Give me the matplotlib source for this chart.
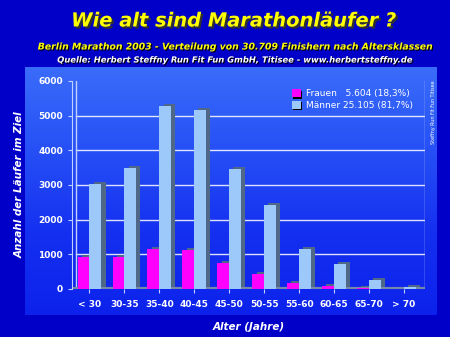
import numpy as np
import matplotlib
matplotlib.use("Agg")
import matplotlib.pyplot as plt
import matplotlib.patheffects as pe

categories = ["< 30", "30-35", "35-40", "40-45", "45-50", "50-55",
              "55-60", "60-65", "65-70", "> 70"]
frauen = [930, 920, 1140, 1130, 750, 430, 170, 90, 30, 10]
maenner = [3020, 3480, 5280, 5150, 3470, 2430, 1160, 720, 250, 60]
yticks = [0, 1000, 2000, 3000, 4000, 5000, 6000]

fig = plt.figure(figsize=(4.5, 3.37), dpi=100)
fig.patch.set_facecolor("#0000C8")

# lighter blue panel with vertical gradient
bg = fig.add_axes([25/450, 1-315/337, (437-25)/450, (315-67)/337])
grad = np.linspace(0, 1, 256).reshape(-1, 1)
cmap = matplotlib.colors.LinearSegmentedColormap.from_list(
    "panel", ["#3A6CFA", "#2650F6", "#1530F0", "#0C22EC"])
bg.imshow(grad, aspect="auto", cmap=cmap, extent=[0, 1, 0, 1])
bg.set_axis_off()

ax = fig.add_axes([72/450, 1-289/337, (425-72)/450, (289-81)/337])
ax.set_facecolor("none")
x = np.arange(len(categories))
w = 0.34

for yv in yticks[1:-1]:
    ax.plot([-0.38, 9.6], [yv, yv], color="white", lw=1, alpha=0.85, zorder=1)
ax.plot([-0.38, -0.38], [0, 6000], color="#C0D0FF", lw=1, zorder=1)
ax.plot([9.6, 9.6], [0, 6000], color="#C0D0FF", lw=1, zorder=1)
ax.axhline(0, color="#7888A8", lw=3, zorder=2)

# fake 3D side/top with an offset shadow
shadow = [pe.SimplePatchShadow(offset=(3, 1.5), shadow_rgbFace="#506888", alpha=1.0),
          pe.Normal()]
b1 = ax.bar(x - w/2, frauen, w, color="#FF00FF", zorder=3, label="Frauen   5.604 (18,3%)")
b2 = ax.bar(x + w/2, maenner, w, color="#9CC8FA", zorder=3, label="Männer 25.105 (81,7%)")
for b in list(b1) + list(b2):
    b.set_path_effects(shadow)

ax.set_xlim(-0.5, 9.6)
ax.set_ylim(0, 6000)
ax.set_yticks(yticks)
ax.set_xticks(x)
ax.set_xticklabels(categories)
for s in ["top", "right", "bottom"]:
    ax.spines[s].set_visible(False)
ax.spines["left"].set_color("#C0D0FF")
ax.tick_params(axis="y", colors="#C0D0FF", length=3, labelcolor="white",
               labelsize=6.5)
ax.tick_params(axis="x", colors="#C0D0FF", length=3, labelcolor="white",
               labelsize=6.5, pad=5)
for t in ax.get_xticklabels() + ax.get_yticklabels():
    t.set_fontweight("bold")

leg = ax.legend(loc="upper right", bbox_to_anchor=(0.99, 1.0), frameon=False,
                fontsize=6.5, labelcolor="white", handlelength=1.0,
                handleheight=1.0, handletextpad=0.6, labelspacing=0.3)
for h in leg.legend_handles:
    h.set_path_effects([pe.SimplePatchShadow(offset=(1, -1), shadow_rgbFace="black", alpha=1), pe.Normal()])

ax.set_ylabel("Anzahl der Läufer im Ziel", color="white", fontsize=7.5,
              fontweight="bold", style="italic", labelpad=10)
ax.set_xlabel("Alter (Jahre)", color="white", fontsize=7.5, style="italic",
              fontweight="bold", labelpad=9)

fig.text(0.52, 1-21/337, "Wie alt sind Marathonläufer ?", ha="center", va="center",
         color="#FFFF00", fontsize=14, fontweight="bold", style="italic",
         path_effects=[pe.withSimplePatchShadow(offset=(1.5, -1.5), shadow_rgbFace="#303030", alpha=1)])
fig.text(0.52, 1-47/337,
         "Berlin Marathon 2003 - Verteilung von 30.709 Finishern nach Altersklassen",
         ha="center", va="center", color="#FFFF00", fontsize=6.7,
         fontweight="bold", style="italic",
         path_effects=[pe.withSimplePatchShadow(offset=(0.8, -0.8), shadow_rgbFace="black", alpha=1)])
fig.text(0.52, 1-60/337,
         "Quelle: Herbert Steffny Run Fit Fun GmbH, Titisee - www.herbertsteffny.de",
         ha="center", va="center", color="white", fontsize=6.05,
         fontweight="bold", style="italic",
         path_effects=[pe.withSimplePatchShadow(offset=(0.8, -0.8), shadow_rgbFace="black", alpha=1)])
fig.text(433/450, 1-112/337, "Steffny Run Fit Fun Titisee", rotation=90,
         ha="center", va="center", color="white", fontsize=3.5)

fig.savefig("out.png", dpi=100, facecolor=fig.get_facecolor())
